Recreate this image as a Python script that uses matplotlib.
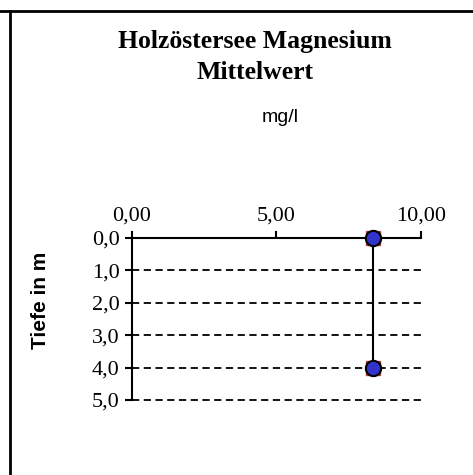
import matplotlib.pyplot as plt
from matplotlib.lines import Line2D

# data
depth = [0.0, 4.0]
magnesium = [8.35, 8.35]
xticks = [0, 5, 10]
xlabels = ['0,00', '5,00', '10,00']
yticks = [0, 1, 2, 3, 4, 5]
ylabels = ['0,0', '1,0', '2,0', '3,0', '4,0', '5,0']

serif = 'Liberation Serif'
sans = 'Liberation Sans'

fig = plt.figure(figsize=(4.73, 4.75), dpi=100)
ax = fig.add_axes([0.279, 0.158, 0.611, 0.341])

# frame lines of the chart area
fig.add_artist(Line2D([0, 1], [1 - 11 / 475, 1 - 11 / 475], color='black', lw=2))
fig.add_artist(Line2D([10 / 473, 10 / 473], [0, 1 - 11 / 475], color='black', lw=2))

for y in yticks[1:]:
    ax.axhline(y, color='black', lw=1.3, ls=(0, (4, 2.5)), zorder=1, clip_on=False)

ax.plot(magnesium, depth, color='black', lw=1.5, zorder=2)
ax.plot(magnesium, depth, ls='none', marker='s', ms=10, mfc='#b04040', mec='#b04040',
        zorder=3, clip_on=False)
ax.plot(magnesium, depth, ls='none', marker='o', ms=11, mfc='#3333cc', mec='black', mew=1.5,
        zorder=4, clip_on=False)

ax.set_xlim(0, 10)
ax.set_ylim(5, 0)
ax.xaxis.tick_top()
ax.set_xticks(xticks)
ax.set_xticklabels(xlabels, fontfamily=serif, fontsize=16)
ax.set_yticks(yticks)
ax.set_yticklabels(ylabels, fontfamily=serif, fontsize=16)
ax.tick_params(axis='x', direction='out', length=5, width=1.5, pad=4)
ax.tick_params(axis='y', direction='out', length=5, width=1.5, pad=4)
for s in ['right', 'bottom']:
    ax.spines[s].set_visible(False)
for s in ['top', 'left']:
    ax.spines[s].set_linewidth(1.5)

fig.text(0.539, 1 - 57 / 475, 'Holzöstersee Magnesium\nMittelwert', ha='center', va='center',
         fontfamily=serif, fontweight='bold', fontsize=18.5, linespacing=1.45)
fig.text(0.592, 1 - 118 / 475, 'mg/l', ha='center', va='center', fontfamily=sans, fontsize=14)
fig.text(40 / 473, 1 - 300 / 475, 'Tiefe in m', ha='center', va='center', rotation=90,
         fontfamily=sans, fontweight='bold', fontsize=15)

fig.savefig('out.png', dpi=100)
